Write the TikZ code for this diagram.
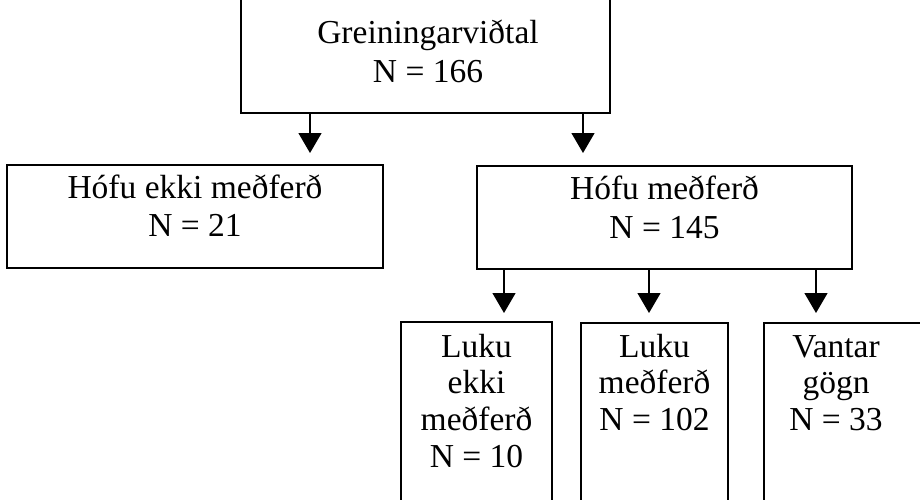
\documentclass[tikz,border=0pt]{standalone}
\usepackage{fontspec}
\setmainfont{Liberation Serif}
\usetikzlibrary{arrows.meta}
\tikzset{
  box/.style={draw, line width=2.2pt, rectangle, inner sep=0pt, outer sep=0pt},
  lbl/.style={anchor=base, inner sep=0pt, font=\fontsize{33.5}{40}\selectfont},
  arr/.style={line width=1.3pt, -{Triangle[width=23pt,length=20pt]}}
}
\begin{document}
\begin{tikzpicture}[x=1pt,y=-1pt]
\useasboundingbox (0,0) rectangle (920,499);
\clip (0,0) rectangle (920,499);
% boxes
\node[box, minimum width=369pt, minimum height=163pt] (top) at (425.5,31.5) {};
\node[box, minimum width=376pt, minimum height=103pt] (left) at (195,216.5) {};
\node[box, minimum width=375pt, minimum height=103pt] (mid) at (664.5,217.5) {};
\node[box, minimum width=151pt, minimum height=208pt] (b1) at (476.5,426) {};
\node[box, minimum width=147pt, minimum height=207pt] (b2) at (654.5,426.5) {};
\node[box, minimum width=158pt, minimum height=207pt] (b3) at (843,426.5) {};
% labels
\node[lbl] (t1) at (428,43) {Greiningarviðtal};
\node[lbl] (t2) at (428,82) {N = 166};
\node[lbl] (l1) at (195,198) {Hófu ekki meðferð};
\node[lbl] (l2) at (195,236) {N = 21};
\node[lbl] (m1) at (664.5,199) {Hófu meðferð};
\node[lbl] (m2) at (664.5,238) {N = 145};
\node[lbl] (p1) at (476.5,357) {Luku};
\node[lbl] (p2) at (476.5,393) {ekki};
\node[lbl] (p3) at (476.5,430) {meðferð};
\node[lbl] (p4) at (476.5,467) {N = 10};
\node[lbl] (q1) at (654.5,357) {Luku};
\node[lbl] (q2) at (654.5,393) {meðferð};
\node[lbl] (q3) at (654.5,430) {N = 102};
\node[lbl] (r1) at (836,357) {Vantar};
\node[lbl] (r2) at (836,393) {gögn};
\node[lbl] (r3) at (836,430) {N = 33};
% arrow columns
\coordinate (ca) at (310,0);
\coordinate (cb) at (583,0);
\coordinate (cc) at (504,0);
\coordinate (cd) at (649,0);
\coordinate (ce) at (816,0);
\draw[arr, shorten >=12pt] (ca |- top.south) -- (ca |- left.north);
\draw[arr, shorten >=13pt] (cb |- top.south) -- (cb |- mid.north);
\draw[arr, shorten >=9pt] (cc |- mid.south) -- (cc |- b1.north);
\draw[arr, shorten >=10pt] (cd |- mid.south) -- (cd |- b2.north);
\draw[arr, shorten >=10pt] (ce |- mid.south) -- (ce |- b3.north);
\end{tikzpicture}
\end{document}
